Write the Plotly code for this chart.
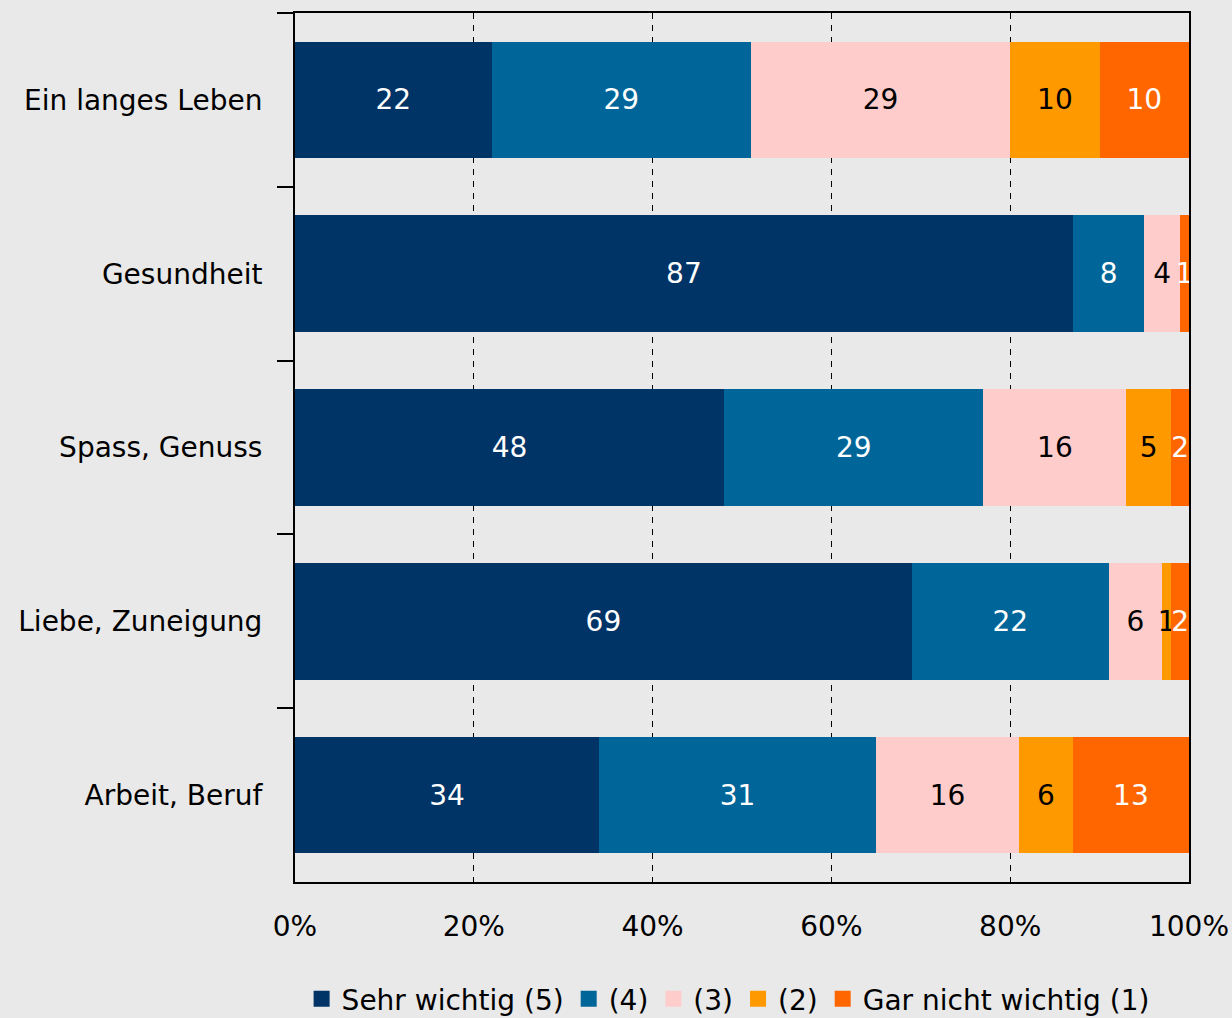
import plotly.graph_objects as go

categories = ["Ein langes Leben", "Gesundheit", "Spass, Genuss", "Liebe, Zuneigung", "Arbeit, Beruf"]
series_names = ["Sehr wichtig (5)", "(4)", "(3)", "(2)", "Gar nicht wichtig (1)"]
v5 = [22, 87, 48, 69, 34]
v4 = [29, 8, 29, 22, 31]
v3 = [29, 4, 16, 6, 16]
v2 = [10, 0, 5, 1, 6]
v1 = [10, 1, 2, 2, 13]
x_ticks = [0, 20, 40, 60, 80, 100]
x_tick_labels = ["0%", "20%", "40%", "60%", "80%", "100%"]

colors = ["#003366", "#006699", "#ffcccc", "#ff9900", "#ff6600"]
text_colors = ["white", "white", "black", "black", "white"]
FONT = "DejaVu Sans"

fig = go.Figure()
for name, vals, col, tcol in zip(series_names, [v5, v4, v3, v2, v1], colors, text_colors):
    fig.add_trace(go.Bar(
        y=categories, x=vals, name=name, orientation="h",
        marker=dict(color=col, line=dict(width=0)),
        text=[str(v) if v > 0 else "" for v in vals],
        texttemplate="%{text}",
        textposition="inside", insidetextanchor="middle",
        constraintext="none",
        textfont=dict(family=FONT, size=28, color=tcol),
        hoverinfo="skip", showlegend=False,
    ))
# legend entries with larger square symbols
for name, col in zip(series_names, colors):
    fig.add_trace(go.Scatter(
        x=[None], y=[None], mode="markers", name=name,
        marker=dict(symbol="square", size=19, color=col),
        hoverinfo="skip", showlegend=True,
    ))

bg = "#e9e9e9"
fig.update_layout(
    barmode="stack", bargap=0.33,
    width=1232, height=1018,
    margin=dict(l=295, r=43, t=13, b=136, autoexpand=False),
    paper_bgcolor=bg, plot_bgcolor=bg,
    font=dict(family=FONT, size=28, color="black"),
    showlegend=True,
    legend=dict(orientation="h", xref="container", yref="container",
                x=0.591, xanchor="center", y=0.0187, yanchor="middle",
                font=dict(family=FONT, size=28, color="black"), bgcolor="rgba(0,0,0,0)",
                itemwidth=30, tracegroupgap=0, traceorder="normal"),
)
fig.update_xaxes(
    range=[0, 100], tickvals=x_ticks, ticktext=x_tick_labels,
    showgrid=True, gridcolor="black", gridwidth=1, griddash="6px,6px",
    zeroline=False, showline=True, linecolor="black", linewidth=2, mirror=True,
    ticks="", ticklabelstandoff=18, tickfont=dict(family=FONT, size=28),
)
fig.update_yaxes(
    categoryorder="array", categoryarray=categories, autorange="reversed",
    showline=True, linecolor="black", linewidth=2, mirror=True,
    ticks="outside", tickson="boundaries", ticklen=16, tickwidth=2, tickcolor="black",
    ticklabelstandoff=25, showgrid=False, tickfont=dict(family=FONT, size=28),
)

fig.write_html("out.html", config={"displayModeBar": False},
               post_script="document.body.style.margin='0';document.body.style.overflow='hidden';")
